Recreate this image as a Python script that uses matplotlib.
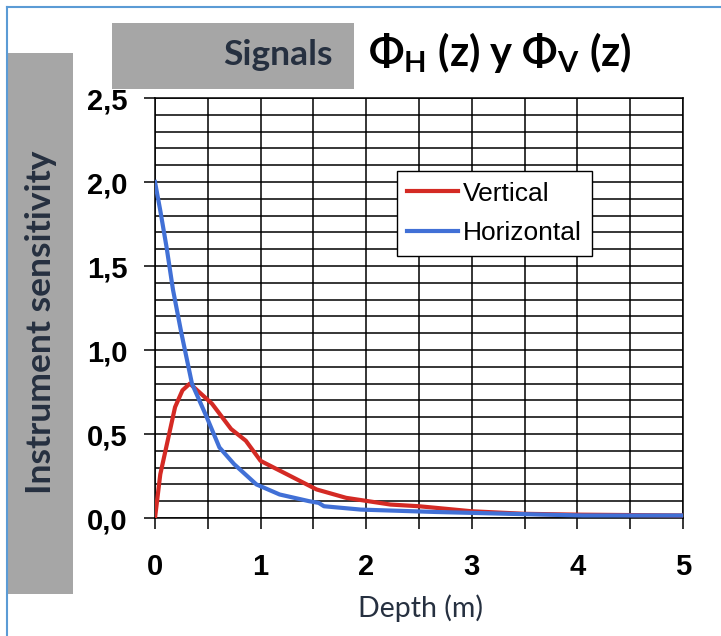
import matplotlib
matplotlib.use("Agg")
import matplotlib.pyplot as plt
import matplotlib.patches as patches
from matplotlib.lines import Line2D
from matplotlib.ticker import MultipleLocator, FuncFormatter

# datos
depth_v = [0, 0.05, 0.12, 0.19, 0.26, 0.33, 0.40, 0.54, 0.72, 0.86, 1.0, 1.25, 1.53, 1.81, 2.23, 2.5, 3.0, 3.5, 4.0, 5.0]
vertical = [0, 0.26, 0.46, 0.66, 0.76, 0.80, 0.76, 0.68, 0.53, 0.46, 0.34, 0.26, 0.17, 0.12, 0.08, 0.07, 0.04, 0.025, 0.02, 0.015]

depth_h = [0, 0.05, 0.11, 0.17, 0.25, 0.35, 0.49, 0.61, 0.75, 0.96, 1.18, 1.46, 1.55, 1.6, 1.95, 2.65, 3.35, 4.05, 5.0]
horizontal = [2.0, 1.83, 1.61, 1.36, 1.10, 0.80, 0.60, 0.42, 0.32, 0.20, 0.14, 0.10, 0.09, 0.07, 0.05, 0.036, 0.025, 0.015, 0.015]

x_ticks = [0, 1, 2, 3, 4, 5]
y_ticks = [0.0, 0.5, 1.0, 1.5, 2.0, 2.5]

W, H = 721, 636


def px(x, y):
    # pixel -> coordenadas de figura
    return x / W, 1 - y / H


fig = plt.figure(figsize=(W / 100, H / 100), dpi=100)
fig.patch.set_facecolor("white")

x0, y0 = px(155, 518)
x1, y1 = px(683, 98)
ax = fig.add_axes([x0, y0, x1 - x0, y1 - y0])

ax.plot(depth_v, vertical, color="#d42a24", lw=3.0, label="Vertical", zorder=3)
ax.plot(depth_h, horizontal, color="#4170d6", lw=3.0, label="Horizontal", zorder=3)

ax.set_xlim(0, 5)
ax.set_ylim(0, 2.5)
ax.set_xticks(x_ticks)
ax.set_yticks(y_ticks)
ax.xaxis.set_minor_locator(MultipleLocator(0.5))
ax.yaxis.set_minor_locator(MultipleLocator(0.1))
ax.yaxis.set_major_formatter(FuncFormatter(lambda v, p: f"{v:.1f}".replace(".", ",")))

ax.grid(True, which="both", color="black", lw=1.1)
ax.set_axisbelow(True)
for s in ax.spines.values():
    s.set_color("black")
    s.set_linewidth(1.1)

tick_font = {"family": "Liberation Sans", "weight": "bold", "size": 21}
ax.tick_params(axis="x", which="both", direction="out", length=8, width=1.1, pad=17)
ax.tick_params(axis="y", which="major", direction="out", length=8, width=1.1, pad=12)
ax.tick_params(axis="y", which="minor", length=0)
for lab in ax.get_xticklabels() + ax.get_yticklabels():
    lab.set_fontproperties(tick_font)

leg = ax.legend(loc="upper left", bbox_to_anchor=(0.458, 0.826),
                prop={"family": "Liberation Sans", "size": 19},
                frameon=True, fancybox=False, framealpha=1, edgecolor="black",
                borderpad=0.4, labelspacing=0.6, handlelength=1.9, handletextpad=0.2,
                borderaxespad=0)
leg.get_frame().set_linewidth(1.0)

navy = "#263040"

# titulo (la parte visible)
tx, ty = px(368, 66)
fig.text(tx, ty, r"Φ$_\mathregular{H}$ (z) y Φ$_\mathregular{V}$ (z)",
         ha="left", va="baseline", fontsize=30, fontweight="bold",
         family=["Lato", "DejaVu Sans"], color="black", zorder=4)

# cajas grises
bx, by = px(112, 89)
fig.add_artist(patches.Rectangle((bx, by), (354 - 112) / W, (89 - 23) / H,
                                 transform=fig.transFigure, facecolor="#a6a6a6",
                                 edgecolor="none", zorder=5))
lx, ly = px(7, 594)
fig.add_artist(patches.Rectangle((lx, ly), (73 - 7) / W, (594 - 53) / H,
                                 transform=fig.transFigure, facecolor="#a6a6a6",
                                 edgecolor="none", zorder=5))

sx, sy = px(333, 65)
fig.text(sx, sy, "Signals", ha="right", va="baseline", fontsize=25.5,
         fontweight="bold", family="Lato", color=navy, zorder=6)

ix, iy = px(41, 322)
fig.text(ix, iy, "Instrument sensitivity", rotation=90, ha="center", va="center",
         fontsize=25.5, fontweight="bold", family="Lato", color=navy, zorder=6)

dx, dy = px(420, 608)
fig.text(dx, dy, "Depth (m)", ha="center", va="center", fontsize=20.5,
         family="Lato", color=navy, zorder=6)

# borde azul
fig.add_artist(Line2D([7 / W, 7 / W], [0, 1 - 7 / H], transform=fig.transFigure,
                      color="#5b9bd5", lw=1.5, zorder=7))
fig.add_artist(Line2D([7 / W, 1], [1 - 7 / H, 1 - 7 / H], transform=fig.transFigure,
                      color="#5b9bd5", lw=1.5, zorder=7))

fig.savefig("out.png", dpi=100)
